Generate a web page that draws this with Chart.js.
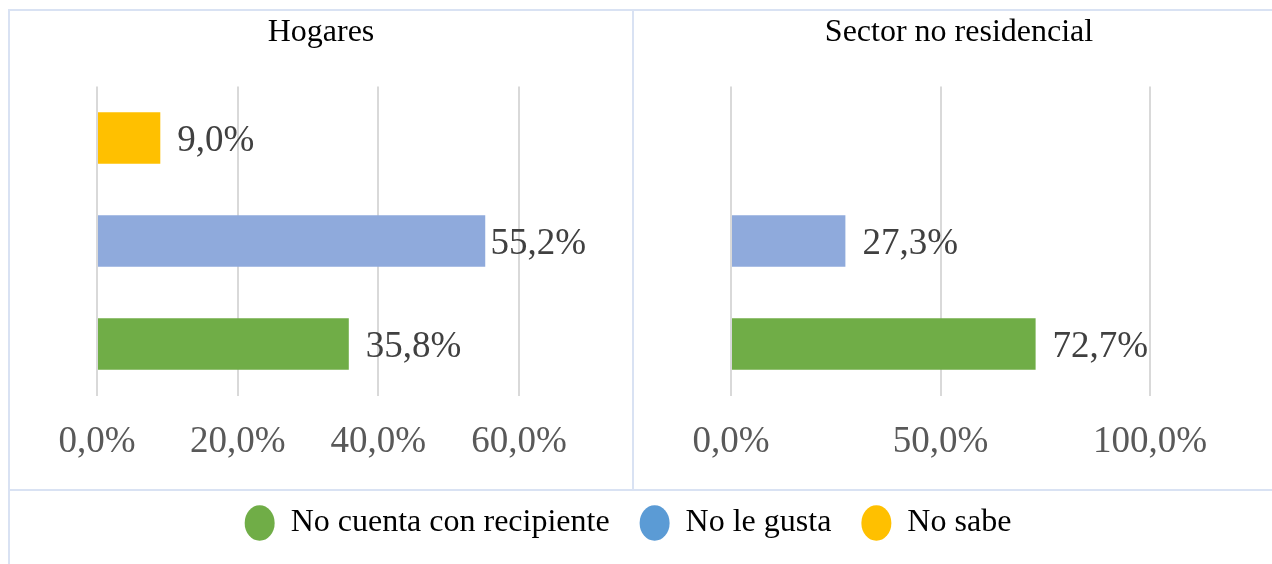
<!DOCTYPE html>
<html>
<head>
<meta charset="utf-8">
<script src="https://cdn.jsdelivr.net/npm/chart.js@4.4.1/dist/chart.umd.min.js"></script>
<style>
  html, body { margin: 0; padding: 0; background: #fff; overflow: hidden; }
  #frame { position: absolute; left: 8px; top: 9px; width: 1300px; height: 600px; border: 2px solid #d9e2f3; box-sizing: border-box; }
  #vline { position: absolute; left: 632px; top: 9px; width: 2px; height: 481px; background: #d9e2f3; }
  #hline { position: absolute; left: 8px; top: 489px; width: 1300px; height: 2px; background: #d9e2f3; }
  canvas { position: absolute; }
  #hogares { left: 10px; top: 11px; }
  #sector { left: 634px; top: 11px; }
  #legend { left: 8px; top: 477px; }
</style>
</head>
<body>
<div id="frame"></div>
<div id="vline"></div>
<div id="hline"></div>
<canvas id="hogares" width="622" height="477"></canvas>
<canvas id="sector" width="650" height="477"></canvas>
<canvas id="legend" width="1240" height="200"></canvas>
<script>
// categories top to bottom, as in the picture
const categories = ['No sabe', 'No le gusta', 'No cuenta con recipiente'];
const barColors = ['#ffc000', '#8faadc', '#70ad47'];

const hogaresValues = [9.0, 55.2, 35.8];
const sectorValues = [null, 27.3, 72.7];

const hogaresMax = 60, hogaresStep = 20;
const sectorMax = 100, sectorStep = 50;

const legendLabels = ['No cuenta con recipiente', 'No le gusta', 'No sabe'];
const legendColors = ['#70ad47', '#5b9bd5', '#ffc000'];

Chart.defaults.font.family = '"Liberation Serif", "Times New Roman", serif';
Chart.defaults.animation = false;

const pct = v => v.toFixed(1).replace('.', ',') + '%';

// value labels at the end of each bar
const valueLabels = {
    id: 'valueLabels',
    afterDatasetsDraw(chart, args, opts) {
        const ctx = chart.ctx;
        const ds = chart.data.datasets[0];
        const meta = chart.getDatasetMeta(0);
        ctx.save();
        ctx.font = '37px ' + Chart.defaults.font.family;
        ctx.fillStyle = '#404040';
        ctx.textBaseline = 'middle';
        meta.data.forEach((bar, i) => {
            const v = ds.data[i];
            if (v == null) return;
            const text = pct(v);
            const w = ctx.measureText(text).width;
            let x = bar.x + 17;
            const maxX = chart.width - opts.edge;
            if (x + w > maxX) x = maxX - w;
            ctx.fillText(text, x, bar.y + 3);
        });
        ctx.restore();
    }
};

// empty side axes, only to reserve room so the title stays centred on the panel
const spacer = (pos, w) => ({
    type: 'category',
    position: pos,
    display: true,
    grid: { display: false },
    border: { display: false },
    ticks: { display: false },
    afterFit: s => { s.width = w; }
});

function panel(id, title, values, max, step, padLeft, padRight) {
    return new Chart(document.getElementById(id), {
        type: 'bar',
        data: {
            labels: categories,
            datasets: [{
                data: values,
                backgroundColor: barColors,
                barPercentage: 0.5,
                categoryPercentage: 1
            }]
        },
        options: {
            indexAxis: 'y',
            responsive: false,
            layout: { padding: 0 },
            scales: {
                x: {
                    min: 0,
                    max: max,
                    border: { display: false },
                    grid: { color: '#d9d9d9', lineWidth: 2, drawTicks: false },
                    ticks: {
                        stepSize: step,
                        padding: 24,
                        color: '#595959',
                        font: { size: 37 },
                        callback: v => pct(v)
                    }
                },
                y: spacer('left', padLeft),
                yRight: spacer('right', padRight)
            },
            plugins: {
                legend: { display: false },
                tooltip: { enabled: false },
                title: {
                    display: true,
                    text: title,
                    color: '#000',
                    font: { size: 32, weight: 'normal' },
                    padding: { top: 2, bottom: 35 }
                },
                valueLabels: { edge: 46 }
            }
        },
        plugins: [valueLabels]
    });
}

panel('hogares', 'Hogares', hogaresValues, hogaresMax, hogaresStep, 87, 113);
panel('sector', 'Sector no residencial', sectorValues, sectorMax, sectorStep, 97, 134);

// shared legend
new Chart(document.getElementById('legend'), {
    type: 'bar',
    data: {
        labels: [''],
        datasets: legendLabels.map((l, i) => ({ label: l, data: [], backgroundColor: legendColors[i] }))
    },
    options: {
        responsive: false,
        scales: { x: { display: false }, y: { display: false } },
        plugins: {
            tooltip: { enabled: false },
            legend: {
                position: 'top',
                maxHeight: 150,
                labels: {
                    usePointStyle: true,
                    pointStyle: 'circle',
                    pointStyleWidth: 30,
                    boxHeight: 25,
                    padding: 30,
                    color: '#000',
                    font: { size: 32 }
                }
            }
        }
    }
});
</script>
</body>
</html>
